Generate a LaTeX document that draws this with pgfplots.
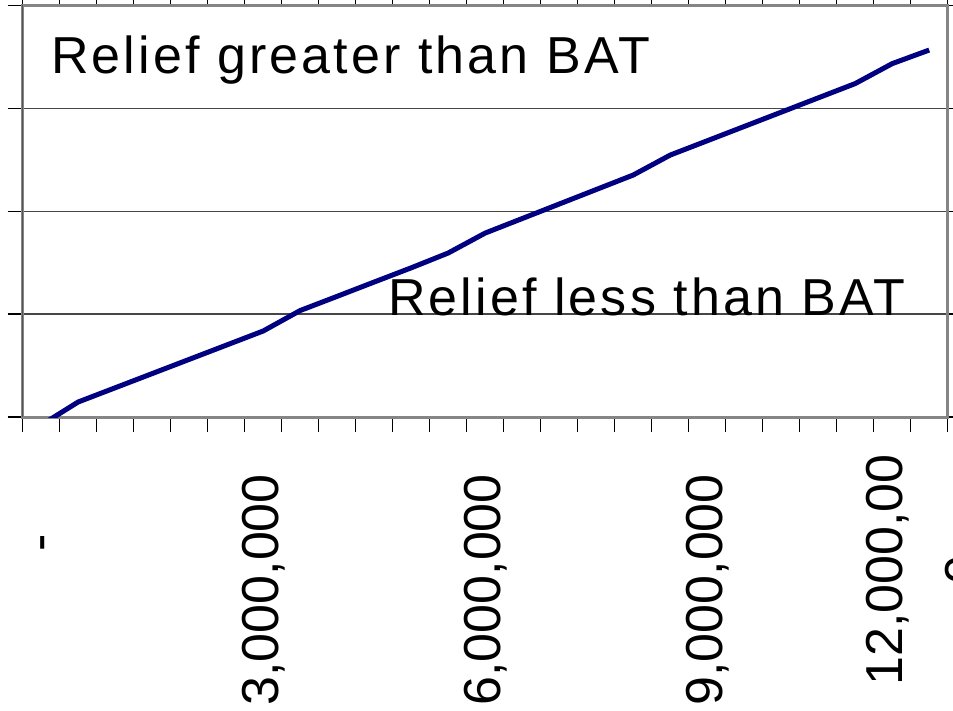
\documentclass[border=0pt]{standalone}
\usepackage{pgfplots}
\pgfplotsset{compat=1.18}
\usepackage{fontspec}
\setmainfont{Liberation Sans}
\newfontfamily\spaced[LetterSpace=6]{Liberation Sans}
\definecolor{framegray}{rgb}{0.52,0.52,0.52}
\definecolor{linenavy}{rgb}{0,0,0.5}

\begin{document}
\begin{tikzpicture}
\path[use as bounding box] (0,0) rectangle (953pt,710pt);
\begin{axis}[
    at={(22.7pt,293pt)}, anchor=south west,
    scale only axis,
    width=925pt, height=411.5pt,
    xmin=-0.5, xmax=24.5,
    ymin=0, ymax=4,
    axis line style={draw=framegray, line width=3pt},
    tick align=outside,
    major tick length=15pt,
    tick style={black, line width=1.3pt},
    xtick={-0.5,0.5,...,24.5},
    xticklabels={},
    ytick={0,1,2,3,4},
    yticklabels={},
    extra x ticks={0,6,12,18,24},
    extra x tick labels={{\strut\raisebox{-3pt}{-}\hspace*{60pt}},{3,000,000},{6,000,000},{9,000,000},{\begin{tabular}{@{}c@{}}12,000,00\\[16.6pt]0\end{tabular}\kern-20pt}},
    extra x tick style={grid=none, major tick length=0pt, tick style={draw=none}},
    xticklabel style={yshift=-57pt, rotate=90, anchor=east, inner sep=0pt,
        font=\fontsize{52}{62.4}\selectfont},
    ymajorgrids=true,
    grid style={gray!55!black, line width=1.3pt},
]
\addplot[linenavy, line width=5pt] coordinates {
    (0,-0.078) (1,0.146) (2,0.284) (3,0.422) (4,0.560) (5,0.698)
    (6,0.836) (7,1.035) (8,1.173) (9,1.312) (10,1.450) (11,1.594)
    (12,1.788) (13,1.929) (14,2.070) (15,2.211) (16,2.352) (17,2.546)
    (18,2.685) (19,2.824) (20,2.963) (21,3.102) (22,3.241) (23,3.435)
    (24,3.567)
};
\draw[black, line width=1pt] (rel axis cs:0,0) -- (rel axis cs:0,1);
\node[anchor=base west, inner sep=0pt, font=\spaced\fontsize{52}{62.4}\selectfont]
    at (axis cs:0.265,3.341) {Relief greater than BAT};
\node[anchor=base west, inner sep=0pt, font=\spaced\fontsize{52}{62.4}\selectfont]
    at (axis cs:9.373,0.985) {Relief less than BAT};
\end{axis}
\end{tikzpicture}
\end{document}
